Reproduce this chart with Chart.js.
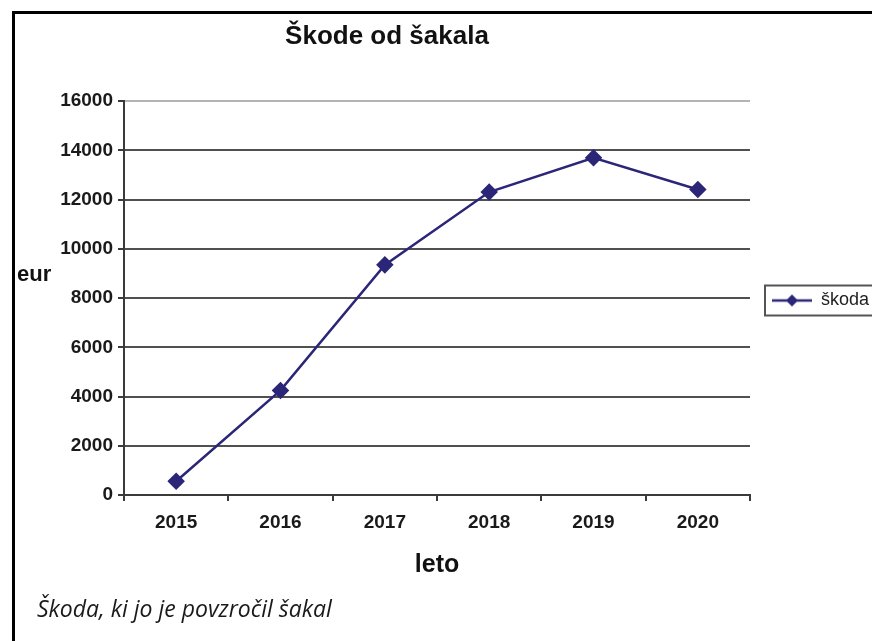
<!DOCTYPE html>
<html>
<head>
<meta charset="utf-8">
<script src="https://cdn.jsdelivr.net/npm/chart.js"></script>
<style>
  html, body { margin: 0; padding: 0; background: #fff; overflow: hidden; }
  body { width: 872px; height: 641px; position: relative; }
  #frame { position: absolute; left: 12px; top: 11px; width: 900px; height: 700px;
           border-left: 3px solid #000; border-top: 3px solid #000; }
  #wrap { position: absolute; left: -111px; top: 0; width: 1000px; height: 641px; }
  #caption { position: absolute; left: 37px; top: 592px; font: italic 23px "Open Sans", Lato, sans-serif; color: #1a1a1a; }
</style>
</head>
<body>
<div id="frame"></div>
<div id="wrap"><canvas id="line-chart"></canvas></div>
<div id="caption">Škoda, ki jo je povzročil šakal</div>
<script>
const years = ['2015', '2016', '2017', '2018', '2019', '2020'];
const skoda = [560, 4250, 9350, 12310, 13700, 12410];
const yTicks = [0, 2000, 4000, 6000, 8000, 10000, 12000, 14000, 16000];

const navy = '#2b2677';

// little picture for the legend: line with a diamond on it
const legendMark = document.createElement('canvas');
legendMark.width = 40; legendMark.height = 16;
(function() {
    const c = legendMark.getContext('2d');
    c.strokeStyle = navy; c.lineWidth = 2.5;
    c.beginPath(); c.moveTo(0, 8); c.lineTo(40, 8); c.stroke();
    c.fillStyle = navy;
    c.beginPath(); c.moveTo(20, 2); c.lineTo(26, 8); c.lineTo(20, 14); c.lineTo(14, 8); c.closePath(); c.fill();
})();

// y title drawn horizontally + frame round the legend
const extras = {
    id: 'extras',
    afterDraw(chart) {
        const ctx = chart.ctx, area = chart.chartArea;
        const t = chart.scales.y.options.title;
        ctx.save();
        ctx.font = 'bold 22px "Liberation Sans", Arial, sans-serif';
        ctx.fillStyle = '#111';
        ctx.textBaseline = 'middle';
        ctx.fillText(t.text, area.left - 107, (area.top + area.bottom) / 2 - 23);
        const hb = chart.legend.legendHitBoxes[0];
        if (hb) {
            const cy = hb.top + hb.height / 2;
            ctx.strokeStyle = '#555';
            ctx.lineWidth = 2;
            ctx.strokeRect(hb.left - 7, cy - 15, 125, 30);
        }
        ctx.restore();
    }
};

new Chart(document.getElementById('line-chart'), {
    type: 'line',
    data: {
        labels: years,
        datasets: [{
            label: 'škoda',
            data: skoda,
            borderColor: navy,
            backgroundColor: navy,
            borderWidth: 2.5,
            pointStyle: 'rectRot',
            pointRadius: 7,
            pointHoverRadius: 7,
            tension: 0
        }]
    },
    options: {
        responsive: true,
        maintainAspectRatio: false,
        animation: false,
        layout: { padding: { left: 10, right: 14, top: 0, bottom: 40 } },
        scales: {
            x: {
                offset: true,
                grid: {
                    offset: true,
                    color: c => c.index === years.length ? '#b4b4b4' : 'rgba(0,0,0,0)',
                    tickColor: '#3a3a3a',
                    tickLength: 6,
                    lineWidth: 2
                },
                border: { color: '#3a3a3a', width: 2 },
                ticks: {
                    padding: 10,
                    color: '#1a1a1a',
                    font: { family: '"Liberation Sans", Arial, sans-serif', size: 19, weight: 'bold' }
                },
                title: {
                    display: true,
                    text: 'leto',
                    color: '#111',
                    padding: { top: 0, bottom: 21 },
                    font: { family: '"Liberation Sans", Arial, sans-serif', size: 25, weight: 'bold' }
                },
                afterFit(scale) { scale.height = 106; }
            },
            y: {
                min: 0,
                max: 16000,
                afterBuildTicks(scale) { scale.ticks = yTicks.map(v => ({ value: v })); },
                grid: {
                    color: c => c.tick.value === 16000 ? '#b4b4b4' : '#505050',
                    tickColor: '#3a3a3a',
                    tickLength: 6,
                    lineWidth: 2
                },
                border: { color: '#3a3a3a', width: 2 },
                ticks: {
                    padding: 5,
                    color: '#1a1a1a',
                    callback: v => String(v),
                    font: { family: '"Liberation Sans", Arial, sans-serif', size: 19, weight: 'bold' }
                },
                title: { display: false, text: 'eur' },
                afterFit(scale) { scale.width = 225; }
            }
        },
        plugins: {
            title: {
                display: true,
                text: 'Škode od šakala',
                color: '#111',
                padding: { top: 21, bottom: 49 },
                font: { family: '"Liberation Sans", Arial, sans-serif', size: 26, weight: 'bold' }
            },
            legend: {
                position: 'right',
                maxWidth: 125,
                labels: {
                    usePointStyle: true,
                    pointStyle: legendMark,
                    pointStyleWidth: 40,
                    padding: 22,
                    color: '#222',
                    font: { family: '"Liberation Sans", Arial, sans-serif', size: 18 }
                }
            },
            tooltip: { enabled: false }
        }
    },
    plugins: [extras]
});
</script>
</body>
</html>
